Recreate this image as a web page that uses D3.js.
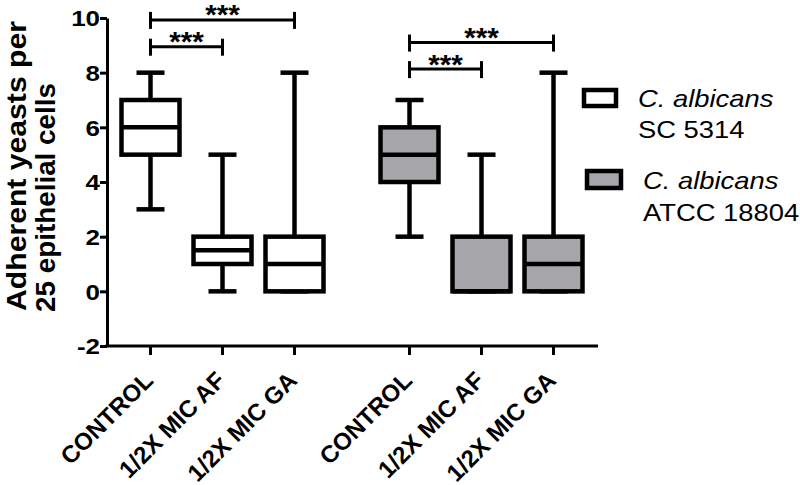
<!DOCTYPE html>
<html><head><meta charset="utf-8">
<script src="https://cdn.jsdelivr.net/npm/d3@7"></script>
<style>body{margin:0;background:#fff}</style></head>
<body><svg id="c" width="800" height="485"></svg>
<script>
// ---- data ----
const strains = ["SC 5314", "ATCC 18804"];
const strainName = ["C. albicans", "C. albicans"];
const treatments = ["CONTROL", "1/2X MIC AF", "1/2X MIC GA"];
const strainFill = ["#ffffff", "#a6a6aa"];
const mins    = [[3, 0, 0], [2, 0, 0]];
const q1s     = [[5, 1, 0], [4, 0, 0]];
const medians = [[6, 1.5, 1], [5, 0, 1]];
const q3s     = [[7, 2, 2], [6, 2, 2]];
const maxs    = [[8, 5, 8], [7, 5, 8]];
const yTicks = [-2, 0, 2, 4, 6, 8, 10];
const bracketStrain = [0, 0, 1, 1];
const bracketTo = [2, 1, 2, 1];           // compared with CONTROL (index 0)
const bracketLevel = [9.93, 8.95, 9.1, 8.13];
const bracketLabel = ["***", "***", "***", "***"];
const yLabelLines = ["Adherent yeasts per", "25 epithelial cells"];

// ---- layout ----
const svg = d3.select("#c");
const FONT = "Liberation Sans, Arial, sans-serif";
const y = d3.scaleLinear().domain([-2, 10]).range([346, 18]);
const x0 = d3.scalePoint().domain(strains).range([222.5, 481.5]);
const x1 = d3.scalePoint().domain(treatments).range([-72, 72]);
const xp = (si, ti) => x0(strains[si]) + x1(treatments[ti]);
const axisX = 107, axisRight = 598;
const boxHalf = 29, capHalf = 14, SW = 4.5;

// y axis
const ya = svg.append("g").attr("transform", `translate(${axisX},0)`)
  .call(d3.axisLeft(y).tickValues(yTicks).tickSize(7).tickSizeOuter(0).tickFormat(d => String(d)));
ya.select(".domain").attr("stroke", "#000").attr("stroke-width", 3);
ya.selectAll(".tick line").attr("stroke", "#000").attr("stroke-width", 3);
ya.selectAll(".tick text")
  .attr("x", null).attr("dy", null)
  .attr("transform", "translate(-7,7.8) scale(1.18,1)")
  .attr("text-anchor", "end")
  .style("font-family", FONT)
  .style("font-weight", "bold").style("font-size", "22px").attr("fill", "#000");

// x axis
const cells = [];
strains.forEach((s, si) => treatments.forEach((t, ti) => cells.push({si, ti})));
svg.append("line").attr("x1", axisX - 1.5).attr("x2", axisRight)
  .attr("y1", y(-2)).attr("y2", y(-2)).attr("stroke", "#000").attr("stroke-width", 3);
svg.selectAll(".xt").data(cells).enter().append("line")
  .attr("x1", d => xp(d.si, d.ti)).attr("x2", d => xp(d.si, d.ti))
  .attr("y1", y(-2)).attr("y2", y(-2) + 9).attr("stroke", "#000").attr("stroke-width", 3);
svg.selectAll(".xl").data(cells).enter().append("text")
  .attr("transform", d => `translate(${xp(d.si, d.ti) + 4},${y(-2) + 36}) rotate(-45)`)
  .attr("text-anchor", "end")
  .style("font-family", FONT)
  .style("font-weight", "bold").style("font-size", "24px")
  .text(d => treatments[d.ti]);

// y label
svg.selectAll(".yl").data(yLabelLines).enter().append("text")
  .attr("transform", (d, i) => `translate(${i ? 55 : 26},${i ? 312 : 311}) rotate(-90)`)
  .attr("text-anchor", "start")
  .attr("textLength", (d, i) => i ? 229 : 290)
  .attr("lengthAdjust", "spacingAndGlyphs")
  .style("font-family", FONT)
  .style("font-weight", "bold").style("font-size", "27px")
  .text(d => d);

// boxes
const g = svg.append("g").attr("stroke", "#000").attr("stroke-width", SW);
cells.forEach(({si, ti}) => {
  const cx = xp(si, ti);
  const mn = mins[si][ti], a = q1s[si][ti], md = medians[si][ti], b = q3s[si][ti], mx = maxs[si][ti];
  g.append("line").attr("x1", cx).attr("x2", cx).attr("y1", y(mx)).attr("y2", y(b));
  g.append("line").attr("x1", cx).attr("x2", cx).attr("y1", y(a)).attr("y2", y(mn));
  g.append("line").attr("x1", cx - capHalf).attr("x2", cx + capHalf).attr("y1", y(mx)).attr("y2", y(mx));
  g.append("line").attr("x1", cx - capHalf).attr("x2", cx + capHalf).attr("y1", y(mn)).attr("y2", y(mn));
  g.append("rect").attr("x", cx - boxHalf).attr("width", boxHalf * 2)
    .attr("y", y(b)).attr("height", y(a) - y(b)).attr("fill", strainFill[si]);
  g.append("line").attr("x1", cx - boxHalf).attr("x2", cx + boxHalf).attr("y1", y(md)).attr("y2", y(md));
});

// significance brackets
bracketLevel.forEach((lv, i) => {
  const si = bracketStrain[i];
  const xa = xp(si, 0), xb = xp(si, bracketTo[i]), yy = y(lv);
  const bg = svg.append("g").attr("stroke", "#000").attr("stroke-width", 3);
  bg.append("line").attr("x1", xa).attr("x2", xb).attr("y1", yy).attr("y2", yy);
  bg.append("line").attr("x1", xa).attr("x2", xa).attr("y1", yy - 8).attr("y2", yy + 9);
  bg.append("line").attr("x1", xb).attr("x2", xb).attr("y1", yy - 8).attr("y2", yy + 9);
  svg.append("text").attr("transform", `translate(${(xa + xb) / 2},${yy + 4.5}) scale(1.1,1)`)
    .attr("text-anchor", "middle")
    .style("font-family", FONT)
    .style("font-weight", "bold").style("font-size", "27px")
    .text(bracketLabel[i]);
});

// legend
const legRect = [{x: 584, y: 90, w: 32, h: 16}, {x: 587, y: 171, w: 34, h: 17}];
const legText = [{x: 638, y: 106.5}, {x: 643, y: 189}];
strains.forEach((s, i) => {
  const r = legRect[i], t = legText[i];
  svg.append("rect").attr("x", r.x).attr("y", r.y).attr("width", r.w).attr("height", r.h)
    .attr("fill", strainFill[i]).attr("stroke", "#000").attr("stroke-width", SW);
  svg.append("text").attr("transform", `translate(${t.x},${t.y}) scale(1.19,1)`)
    .style("font-family", FONT)
    .style("font-style", "italic").style("font-size", "23px").text(strainName[i]);
  svg.append("text").attr("transform", `translate(${t.x},${t.y + 31.5}) scale(1.19,1)`)
    .style("font-family", FONT)
    .style("font-size", "23px").text(s);
});
</script></body></html>
